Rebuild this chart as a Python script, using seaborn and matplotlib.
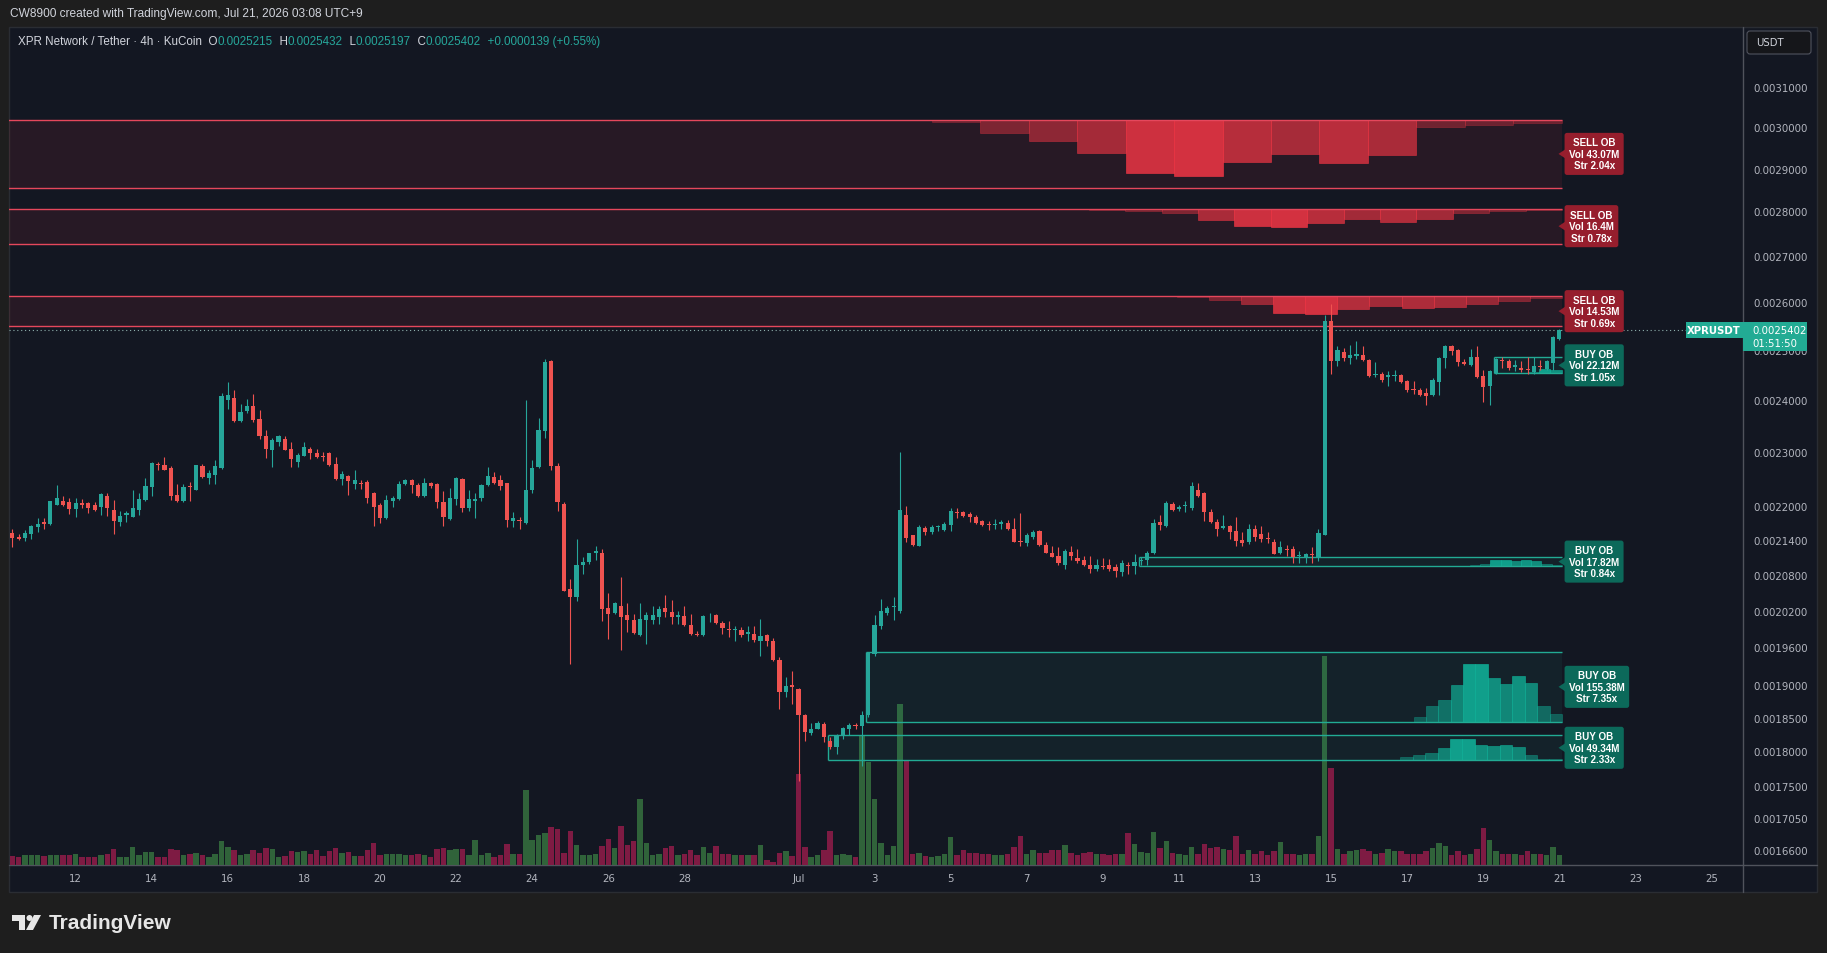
import numpy as np
import pandas as pd
import matplotlib
matplotlib.use("Agg")
import matplotlib.pyplot as plt
import seaborn as sns
from matplotlib.patches import Rectangle, Polygon, FancyBboxPatch, Circle
from matplotlib.ticker import NullLocator, NullFormatter

W, H = 1827, 954

# 4h bars of XPR/USDT, first bar 2026-06-10 08:00, prices in units of 1e-7 USDT
first_bar = "2026-06-10 08:00"

open_e7 = [
    21530, 21460, 21440, 21500, 21620, 21710, 21680, 22030, 22100, 22080,
    21950, 22050, 22050, 22020, 21990, 22190, 21930, 21720, 21850, 21810,
    21930, 22120, 22340, 22780, 22760, 22700, 22210, 22100, 22370, 22300,
    22730, 22520, 22560, 22700, 23990, 24040, 23590, 23780, 23880, 23630,
    23300, 23040, 23190, 23240, 23050, 22810, 22930, 23050, 22970, 22930,
    22980, 22770, 22500, 22550, 22410, 22430, 22440, 22230, 22030, 21780,
    22090, 22130, 22400, 22470, 22390, 22190, 22420, 22400, 22070, 21770,
    22130, 22490, 21970, 22100, 22150, 22380, 22540, 22470, 22420, 21740,
    21750, 21700, 22300, 22720, 23390, 24780, 22730, 22040, 20560, 20430,
    20970, 21010, 21170, 21170, 20240, 20160, 20280, 20120, 20050, 19800,
    20040, 20050, 20100, 20240, 20170, 20100, 20110, 19960, 19820, 19800,
    20120, 20120, 20000, 19900, 19880, 19880, 19810, 19820, 19710, 19800,
    19710, 19400, 18900, 19000, 18950, 18540, 18280, 18340, 18410, 18150,
    18060, 18230, 18330, 18400, 18380, 18540, 19490, 19940, 20160, 20250,
    20200, 21850, 21480, 21300, 21610, 21540, 21620, 21570, 21660, 21900,
    21900, 21860, 21800, 21740, 21690, 21660, 21680, 21700, 21590, 21380,
    21350, 21450, 21550, 21310, 21170, 21130, 20970, 21190, 21090, 21060,
    20970, 20900, 20950, 20960, 20930, 20840, 20970, 20950, 21040, 21050,
    21170, 21720, 21640, 22040, 21950, 22010, 21970, 22290, 22230, 21900,
    21720, 21610, 21640, 21550, 21400, 21360, 21600, 21510, 21440, 21360,
    21170, 21250, 21250, 21120, 21080, 21160, 21100, 21490, 25590, 24780,
    24950, 24840, 24870, 24890, 24800, 24490, 24520, 24450, 24470, 24500,
    24380, 24210, 24200, 24130, 24090, 24360, 24830, 25080, 25000, 24750,
    24690, 24860, 24470, 24270, 24530, 24800, 24780, 24660, 24630, 24620,
    24560, 24680, 24620, 24730, 25215,
]
high_e7 = [
    21600, 21500, 21580, 21670, 21780, 21780, 22100, 22390, 22180, 22150,
    22150, 22130, 22070, 22080, 22240, 22240, 22120, 21910, 21910, 22300,
    22230, 22510, 22810, 22810, 22910, 22730, 22410, 22410, 22440, 22760,
    22770, 22660, 22850, 24140, 24360, 24190, 23920, 24010, 24110, 23800,
    23410, 23270, 23320, 23300, 23180, 22980, 23180, 23100, 23050, 22990,
    23000, 22900, 22650, 22570, 22660, 22470, 22480, 22250, 22060, 22210,
    22190, 22460, 22500, 22490, 22420, 22520, 22440, 22420, 22280, 22330,
    22530, 22520, 22300, 22240, 22410, 22720, 22620, 22570, 22430, 21890,
    21800, 24000, 22840, 23650, 24820, 24800, 22800, 22080, 20730, 21420,
    21100, 21180, 21290, 21240, 20500, 20340, 20770, 20330, 20150, 20330,
    20170, 20280, 20280, 20450, 20370, 20200, 20280, 20150, 19870, 20130,
    20160, 20150, 20020, 20020, 19950, 19930, 19940, 19950, 20060, 19820,
    19750, 19440, 19130, 19220, 18960, 18560, 18430, 18460, 18440, 18220,
    18260, 18370, 18430, 18430, 18600, 19530, 20120, 20390, 20280, 20430,
    22990, 22010, 21490, 21660, 21650, 21670, 21670, 21720, 21960, 21960,
    21920, 21890, 21840, 21760, 21740, 21770, 21750, 21750, 21790, 21880,
    21530, 21570, 21570, 21360, 21290, 21270, 21240, 21290, 21240, 21120,
    21120, 21070, 21080, 21070, 20990, 21060, 21020, 21160, 21100, 21200,
    21770, 21840, 22090, 22070, 22020, 22100, 22440, 22430, 22250, 21950,
    21770, 21840, 21660, 21800, 21540, 21690, 21660, 21640, 21540, 21420,
    21380, 21320, 21290, 21210, 21180, 21270, 21590, 25720, 25950, 25080,
    25040, 25110, 25190, 25080, 24820, 24750, 24560, 24580, 24590, 24520,
    24400, 24370, 24240, 24240, 24430, 24860, 25110, 25110, 25020, 24820,
    25020, 25080, 24600, 24600, 24840, 24860, 24820, 24800, 24780, 24860,
    24860, 24800, 24800, 25280, 25432,
]
low_e7 = [
    21280, 21400, 21390, 21420, 21540, 21600, 21660, 22020, 22010, 21860,
    21810, 21970, 21870, 21920, 21840, 21830, 21510, 21650, 21710, 21800,
    21850, 22090, 22190, 22660, 22660, 22120, 22070, 22080, 22100, 22290,
    22520, 22400, 22410, 22680, 23820, 23570, 23570, 23740, 23560, 23240,
    22880, 22710, 23110, 23030, 22710, 22720, 22920, 22860, 22880, 22820,
    22740, 22480, 22380, 22210, 22320, 22320, 22050, 21640, 21700, 21770,
    21980, 22120, 22380, 22230, 22170, 22170, 22330, 21970, 21640, 21760,
    22030, 21900, 21910, 21790, 22100, 22370, 22410, 22290, 21620, 21620,
    21590, 21680, 22240, 22700, 23260, 22670, 21910, 20520, 19340, 20350,
    20810, 20990, 21060, 20020, 19740, 20150, 19550, 19850, 19810, 19790,
    19650, 19980, 19980, 20090, 19980, 19980, 19950, 19800, 19790, 19790,
    20010, 19980, 19820, 19760, 19710, 19760, 19710, 19680, 19470, 19620,
    19390, 18640, 18820, 18720, 17570, 18150, 18240, 18330, 18140, 18040,
    17970, 18190, 18240, 18340, 17790, 18510, 19470, 19900, 20120, 20050,
    20160, 21360, 21300, 21290, 21490, 21500, 21550, 21550, 21550, 21780,
    21810, 21720, 21690, 21640, 21580, 21590, 21590, 21570, 21360, 21300,
    21300, 21420, 21300, 21170, 21100, 20960, 20890, 21050, 21000, 20950,
    20830, 20870, 20900, 20870, 20770, 20780, 20820, 20810, 20970, 20970,
    21160, 21580, 21630, 21910, 21910, 21890, 21940, 22160, 21740, 21700,
    21470, 21590, 21420, 21300, 21300, 21330, 21380, 21370, 21350, 21150,
    21160, 21130, 21000, 21000, 21000, 21000, 21040, 21480, 24520, 24670,
    24780, 24710, 24820, 24780, 24460, 24450, 24360, 24270, 24370, 24330,
    24150, 24110, 24080, 23900, 24070, 24090, 24630, 24890, 24670, 24690,
    24670, 24440, 23950, 23900, 24510, 24630, 24600, 24580, 24560, 24520,
    24520, 24600, 24600, 24600, 25197,
]
close_e7 = [
    21430, 21410, 21520, 21650, 21690, 21680, 22090, 22140, 22030, 21950,
    22060, 22020, 21970, 21930, 22220, 21970, 21740, 21830, 21870, 21960,
    22130, 22360, 22790, 22760, 22670, 22190, 22100, 22340, 22350, 22750,
    22540, 22600, 22730, 24070, 24090, 23590, 23760, 23880, 23610, 23300,
    23050, 23220, 23300, 23040, 22870, 22950, 23090, 22980, 22900, 22900,
    22750, 22490, 22590, 22450, 22470, 22410, 22150, 21990, 21790, 22120,
    22150, 22410, 22480, 22390, 22190, 22430, 22370, 22080, 21810, 22150,
    22510, 21970, 22130, 22130, 22380, 22550, 22430, 22370, 21760, 21790,
    21730, 22290, 22700, 23410, 24760, 22730, 22080, 20530, 20420, 20970,
    21020, 21170, 21200, 20230, 20140, 20330, 20100, 20040, 19830, 20060,
    20130, 20130, 20230, 20170, 20090, 20120, 19970, 19820, 19800, 20110,
    20130, 20000, 19910, 19880, 19900, 19800, 19840, 19720, 19780, 19710,
    19400, 18900, 18990, 18970, 18540, 18290, 18340, 18430, 18220, 18070,
    18240, 18350, 18400, 18380, 18550, 19510, 19960, 20190, 20240, 20270,
    21930, 21440, 21310, 21620, 21540, 21620, 21640, 21680, 21920, 21880,
    21830, 21800, 21700, 21660, 21670, 21680, 21720, 21590, 21370, 21370,
    21490, 21540, 21310, 21180, 21110, 21000, 21210, 21130, 21030, 20960,
    20890, 20960, 20930, 20890, 20860, 21000, 20950, 21010, 21060, 21170,
    21700, 21660, 22050, 21930, 21980, 22030, 22370, 22190, 21890, 21710,
    21600, 21640, 21540, 21390, 21350, 21600, 21450, 21410, 21410, 21160,
    21270, 21220, 21100, 21140, 21160, 21140, 21520, 25590, 24780, 24990,
    24840, 24890, 24910, 24800, 24470, 24520, 24400, 24490, 24500, 24360,
    24200, 24190, 24090, 24070, 24400, 24830, 25090, 24970, 24750, 24710,
    24860, 24450, 24260, 24580, 24820, 24770, 24630, 24690, 24590, 24590,
    24680, 24650, 24780, 25270, 25402,
]
volume_m = [
    8.7, 7.7, 9.3, 10, 10, 8.7, 9.3, 10, 10, 9.3,
    11, 7.7, 7.7, 7.7, 10, 11, 16, 7.7, 7.7, 17.7,
    9.3, 12.7, 12.7, 7.7, 7.7, 16, 15, 10, 11, 12,
    10, 7.7, 11, 23.3, 17.7, 15, 10, 11, 15, 12,
    17, 16, 7.7, 8.7, 13.3, 12.7, 13.3, 11, 15, 8.7,
    13.3, 17, 12, 12.7, 8.7, 8.7, 15, 22, 10, 11,
    11, 11, 9.3, 10, 11, 10, 7.7, 16, 17, 15,
    16, 16, 10, 25, 10, 12, 7.7, 9.3, 21, 11,
    11, 75, 24.3, 30, 32, 37.7, 35.3, 12, 33.3, 20,
    10, 10, 11, 18.7, 26, 17, 38.7, 19.3, 23.3, 66,
    22, 10, 11, 17, 18.7, 10, 11, 14.3, 9.3, 17.7,
    12, 18.7, 11, 11, 10, 9.3, 9.3, 10, 20, 4.3,
    2.7, 12, 13.3, 8.7, 91, 17.7, 7.7, 9.3, 14.3, 33.3,
    9.3, 11, 9.3, 7.7, 129, 102.7, 66, 22, 10, 18.7,
    161, 105, 11, 12, 8.7, 7.7, 8.7, 11, 27.7, 10,
    14.3, 12, 12, 11, 11, 10, 10, 11, 17.7, 28.7,
    11, 14.3, 12, 12, 14.3, 15, 20, 12, 10, 12,
    12.7, 11, 11, 10, 11, 11, 32, 21, 12.7, 12,
    32.7, 17, 23.7, 12, 11, 10, 17.7, 11, 21, 17,
    17.7, 16, 14.3, 28.7, 11, 15, 10.9, 13.5, 9.8, 13.5,
    22.9, 10.2, 10.9, 9.8, 10.2, 10.2, 28.4, 209, 97, 15.3,
    10.9, 13.5, 14.5, 15.3, 13.5, 10.2, 12, 15.3, 13.5, 13.5,
    10.9, 10.9, 10.2, 13.8, 16.4, 21.8, 18.2, 9.8, 13.5, 9.8,
    10.9, 15.3, 36.4, 24.4, 13.8, 10.2, 10.2, 10.2, 9.8, 13.5,
    10.2, 10.2, 9.8, 17.1, 9.8,
]

tick_dates = ["2026-06-12", "2026-06-14", "2026-06-16", "2026-06-18", "2026-06-20",
              "2026-06-22", "2026-06-24", "2026-06-26", "2026-06-28", "2026-07-01",
              "2026-07-03", "2026-07-05", "2026-07-07", "2026-07-09", "2026-07-11",
              "2026-07-13", "2026-07-15", "2026-07-17", "2026-07-19", "2026-07-21",
              "2026-07-23", "2026-07-25"]
tick_text = ["12", "14", "16", "18", "20", "22", "24", "26", "28", "Jul",
             "3", "5", "7", "9", "11", "13", "15", "17", "19", "21", "23", "25"]
price_ticks = [0.00166, 0.001705, 0.00175, 0.0018, 0.00185, 0.0019, 0.00196,
               0.00202, 0.00208, 0.00214, 0.0022, 0.0023, 0.0024, 0.0025,
               0.0026, 0.0027, 0.0028, 0.0029, 0.0030, 0.0031]

# order blocks
ob_kind = ["sell", "sell", "sell", "buy", "buy", "buy", "buy"]
ob_top = [0.0030172, 0.0028062, 0.0026128, 0.0024852, 0.0021100, 0.0019530, 0.0018240]
ob_bottom = [0.0028549, 0.0027272, 0.0025488, 0.0024523, 0.0020950, 0.0018440, 0.0017870]
ob_start_bar = [-5, -5, -5, 234, 178, 135, 129]
ob_vol = ["43.07M", "16.4M", "14.53M", "22.12M", "17.82M", "155.38M", "49.34M"]
ob_strength = ["2.04x", "0.78x", "0.69x", "1.05x", "0.84x", "7.35x", "2.33x"]
profile_start_bar = [145.0, 169.8, 183.7, 239.0, 229.9, 221.0, 218.9]
profile_share = [
    [0.03, 0.19, 0.31, 0.48, 0.79, 0.83, 0.62, 0.50, 0.64, 0.52, 0.10, 0.07, 0.05],
    [0.03, 0.07, 0.13, 0.33, 0.50, 0.53, 0.40, 0.30, 0.37, 0.30, 0.13, 0.07, 0.03],
    [0.04, 0.12, 0.27, 0.56, 0.60, 0.43, 0.33, 0.40, 0.36, 0.27, 0.15, 0.08],
    [0.12, 0.25, 0.20],
    [0.07, 0.18, 0.70, 0.74, 0.52, 0.63, 0.55, 0.26, 0.11],
    [0.07, 0.23, 0.31, 0.52, 0.82, 0.82, 0.62, 0.54, 0.66, 0.55, 0.23, 0.11],
    [0.13, 0.20, 0.29, 0.50, 0.84, 0.84, 0.63, 0.56, 0.63, 0.53, 0.20, 0.06, 0.06],
]
last_price = 0.0025402

# ---- style ----
BG = "#131722"
FRAME = "#1e1e1e"
UP, DOWN = "#26a69a", "#ef5350"
TXT = "#b2b5be"
sns.set_theme(style="dark", rc={"figure.facecolor": FRAME, "axes.facecolor": BG})
plt.rcParams["font.family"] = ["DejaVu Sans"]
SANS = ["Liberation Sans", "DejaVu Sans"]

o = np.array(open_e7) / 1e7
hi = np.array(high_e7) / 1e7
lo = np.array(low_e7) / 1e7
c = np.array(close_e7) / 1e7
n = len(o)
xs = np.arange(n)
up = c >= o
t0 = pd.Timestamp(first_bar)
tick_x = [(pd.Timestamp(d) - t0) / pd.Timedelta(hours=4) for d in tick_dates]

fig = plt.figure(figsize=(W / 100, H / 100), dpi=100)

# background panel
bg = fig.add_axes([0, 0, 1, 1])
bg.set_xlim(0, W); bg.set_ylim(H, 0); bg.axis("off"); bg.set_zorder(-10)
bg.add_patch(Rectangle((9.3, 28), 1817 - 9.3, 893.4 - 28, fc=BG, ec="#2a2d33", lw=1))
bg.plot([1742.6, 1742.6], [28, 893.4], color="#50535c", lw=1)
bg.plot([9.3, 1817], [865.5, 865.5], color="#50535c", lw=1)

L, R, T, B = 9.3, 1742.6, 28.0, 865.5
ax = fig.add_axes([L / W, 1 - B / H, (R - L) / W, (B - T) / H])
ax2 = ax.twinx()
ax2.set_zorder(1); ax.set_zorder(2)
ax.patch.set_visible(False); ax2.patch.set_visible(False)

# volume
vol_df = pd.DataFrame({"bar": xs, "vol": volume_m, "dir": np.where(up, "up", "down")})
sns.barplot(data=vol_df, x="bar", y="vol", hue="dir", native_scale=True, dodge=False,
            palette={"up": "#30633a", "down": "#7e1b43"}, width=0.86, saturation=1,
            errorbar=None, legend=False, linewidth=0, ax=ax2)
ax2.set_ylim(0, B - T)
ax2.set_yticks([]); ax2.set_xlabel(""); ax2.set_ylabel("")
ax2.grid(False)

# price
ax.set_yscale("log")
ax.set_ylim(0.001641, 0.003256)

x_end = 244.4
for k in range(len(ob_kind)):
    sell = ob_kind[k] == "sell"
    top, bot = ob_top[k], ob_bottom[k]
    x0 = ob_start_bar[k] - 0.3
    base = "#f23645" if sell else "#22ab94"
    ax.add_patch(Rectangle((x0, bot), x_end - x0, top - bot, fc=base,
                           alpha=0.09 if sell else 0.08, ec="none", zorder=1))
    shares = profile_share[k]
    bw = (x_end - profile_start_bar[k]) / len(shares)
    smax = max(shares)
    for i, s in enumerate(shares):
        bx = profile_start_bar[k] + i * bw
        if sell:
            y1 = top
            y0 = top * (bot / top) ** s
            col, a = "#f23645", 0.3 + 0.55 * s / smax
        else:
            y0 = bot
            y1 = bot * (top / bot) ** s
            col, a = "#10b39a", 0.35 + 0.52 * s / smax
        ax.add_patch(Rectangle((bx, y0), bw, y1 - y0, fc=col, alpha=a,
                               ec=col, lw=0.5, zorder=1.5))
    line_col = "#e5475c" if sell else "#22ab94"
    ax.hlines([top, bot], x0, x_end, colors=line_col, lw=1.0, zorder=2)
    if not sell:
        ax.vlines(x0, bot, top, colors=line_col, lw=1.0, zorder=2)

ax.axhline(last_price, color="#8fb0ad", lw=0.8, ls=(0, (1, 2.5)), zorder=2.5)

cols = np.where(up, UP, DOWN)
ax.vlines(xs, lo, hi, colors=cols, lw=0.8, zorder=3)
body_lo = np.minimum(o, c)
body_hi = np.maximum(o, c)
ax.bar(xs, body_hi - body_lo, bottom=body_lo, width=0.66, color=cols, lw=0, zorder=4)

ax.yaxis.tick_right()
ax.set_yticks(price_ticks, labels=[f"{p:.7f}" for p in price_ticks])
ax.yaxis.set_minor_locator(NullLocator())
ax.yaxis.set_minor_formatter(NullFormatter())
ax.set_xticks(tick_x, labels=tick_text)
ax.tick_params(axis="y", length=0, pad=7.5, labelsize=7.4, labelcolor=TXT,
               left=False, labelleft=False, right=True, labelright=True)
ax.tick_params(axis="x", length=0, pad=6, labelsize=7.4, labelcolor=TXT)
ax.grid(False)
for a_ in (ax, ax2):
    for sp in a_.spines.values():
        sp.set_visible(False)
ax.set_xlim(-0.47, 272.9)

# ---- overlay: header, labels, logo ----
ov = fig.add_axes([0, 0, 1, 1])
ov.set_xlim(0, W); ov.set_ylim(H, 0); ov.axis("off"); ov.set_zorder(10)
ov.patch.set_visible(False)

ov.text(10, 14, "CW8900 created with TradingView.com, Jul 21, 2026 03:08 UTC+9",
        color="#d1d4dc", fontsize=8.6, family=SANS, va="center", ha="left")

rend = fig.canvas.get_renderer()
pieces = [("XPR Network / Tether \u00b7 4h \u00b7 KuCoin  O", "#d1d4dc"),
          (f"{o[-1]:.7f}", UP), ("  H", "#d1d4dc"), (f"{hi[-1]:.7f}", UP),
          ("  L", "#d1d4dc"), (f"{lo[-1]:.7f}", UP), ("  C", "#d1d4dc"),
          (f"{c[-1]:.7f}", UP), ("  +0.0000139 (+0.55%)", UP)]
px = 18
for s, col in pieces:
    t = ov.text(px, 42, s, color=col, fontsize=8.4, family=SANS, va="center", ha="left")
    px += t.get_window_extent(renderer=rend).width

# USDT box
ov.add_patch(FancyBboxPatch((1747, 32), 64, 23, boxstyle="round,pad=0,rounding_size=3",
                            fc="#15161a", ec="#50535e", lw=0.8))
ov.text(1756, 43.5, "USDT", color="#d1d4dc", fontsize=7.3, va="center", ha="left")

# order block labels
for k in range(len(ob_kind)):
    sell = ob_kind[k] == "sell"
    mid = np.sqrt(ob_top[k] * ob_bottom[k])
    yc = H - ax.transData.transform((0, mid))[1]
    fc = "#961e2d" if sell else "#0c695a"
    ov.add_patch(Polygon([(1558.5, yc), (1566, yc - 5), (1566, yc + 5)], closed=True,
                         fc=fc, ec="none"))
    head = "SELL OB" if sell else "BUY OB"
    ov.text(1569, yc, f"{head}\nVol {ob_vol[k]}\nStr {ob_strength[k]}", color="white",
            fontsize=7.1, fontweight="bold", family=SANS, va="center", ha="left",
            multialignment="center", linespacing=1.2,
            bbox=dict(boxstyle="round,pad=0.45,rounding_size=0.25", fc=fc, ec="none"))

# last price tags
yl = H - ax.transData.transform((0, last_price))[1]
ov.add_patch(Rectangle((1685.5, yl - 8), 57, 16, fc="#22ab94", ec="none"))
ov.text(1714, yl, "XPRUSDT", color="white", fontsize=7.3, fontweight="bold",
        va="center", ha="center")
ov.add_patch(Rectangle((1743, yl - 8), 64, 29, fc="#22ab94", ec="none"))
ov.text(1752, yl, f"{last_price:.7f}", color="white", fontsize=7.3, va="center", ha="left")
ov.text(1752, yl + 13, "01:51:50", color="white", fontsize=7.3, va="center", ha="left")

# logo
ov.add_patch(Polygon([(12, 916), (25, 916), (25, 931), (19, 931), (19, 922), (12, 922)],
                     closed=True, fc="#e6e6e6", ec="none"))
ov.add_patch(Circle((29.5, 919), 3, fc="#e6e6e6", ec="none"))
ov.add_patch(Polygon([(34, 916), (41, 916), (33, 931), (26, 931)], closed=True,
                     fc="#e6e6e6", ec="none"))
ov.text(49, 924, "TradingView", color="#e6e6e6", fontsize=15, fontweight="bold",
        family=SANS, va="center", ha="left")

fig.savefig("out.png", dpi=100, facecolor=FRAME)
